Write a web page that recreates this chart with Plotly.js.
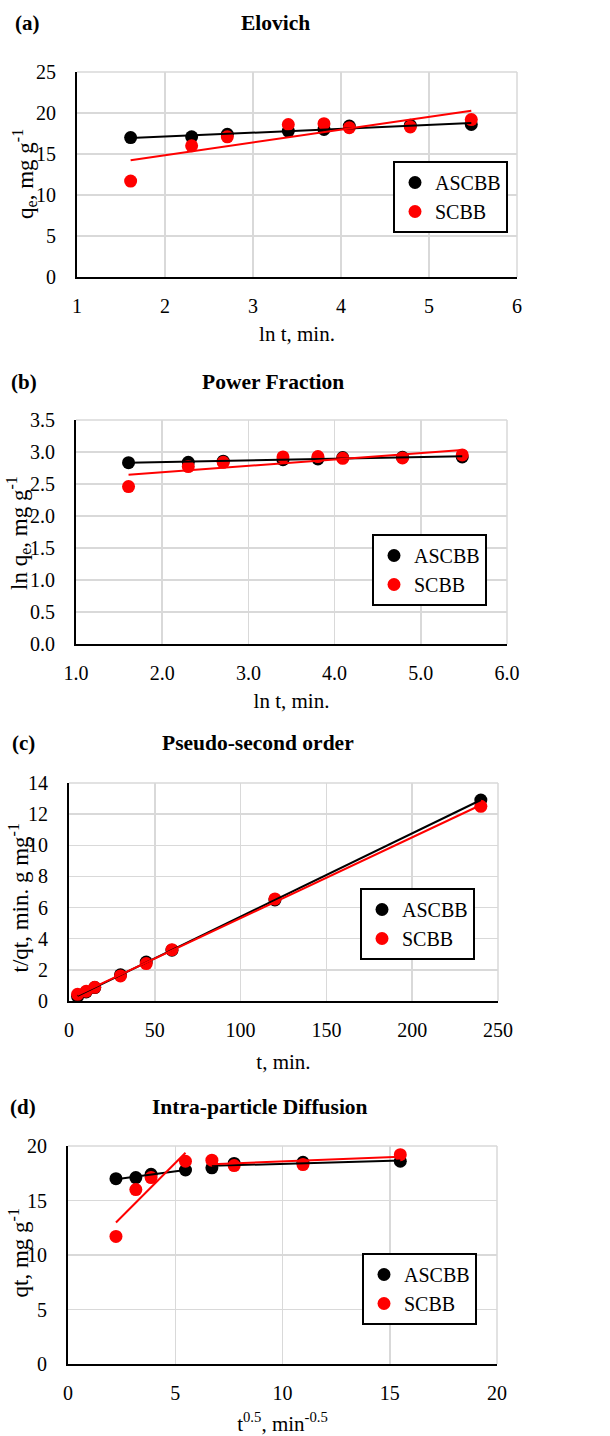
<!DOCTYPE html>
<html><head><meta charset="utf-8">
<script src="https://cdn.plot.ly/plotly-3.0.1.min.js"></script>
<style>html,body{margin:0;padding:0;background:#fff}</style>
</head><body><div id="chart" style="width:610px;height:1436px"></div>
<script>
// ---- data ----
const timeMin = [5, 10, 15, 30, 45, 60, 120, 240];
const qtASCBB = [17.0, 17.1, 17.4, 17.8, 18.0, 18.4, 18.5, 18.6];
const qtSCBB  = [11.7, 16.0, 17.1, 18.6, 18.7, 18.2, 18.3, 19.2];
const seriesNames = ['ASCBB', 'SCBB'];
const seriesColors = ['#000000', '#ff0000'];
const panelLabels = ['(a)', '(b)', '(c)', '(d)'];
const panelTitles = ['Elovich', 'Power Fraction', 'Pseudo-second order', 'Intra-particle Diffusion'];
const xTitles = ['ln t, min.', 'ln t, min.', 't, min.', 't<sup>0.5</sup>, min<sup>-0.5</sup>'];
const yTitles = ['q<sub>e</sub>, mg g<sup>-1</sup>', 'ln q<sub>e</sub>, mg g<sup>-1</sup>', 't/qt, min. g mg<sup>-1</sup>', 'qt, mg g<sup>-1</sup>'];
const ipdSegments = [[0, 3], [4, 7]];   // intra-particle diffusion: fitted stages (point indices)

// ---- derived panel data ----
const lnT = timeMin.map(Math.log);
const sqrtT = timeMin.map(Math.sqrt);
const qSeries = [qtASCBB, qtSCBB];
const panels = [
  {x: lnT,   ys: qSeries, segs: [[0, 7]]},
  {x: lnT,   ys: qSeries.map(q => q.map(Math.log)), segs: [[0, 7]]},
  {x: timeMin, ys: qSeries.map(q => q.map((v, i) => timeMin[i] / v)), segs: [[0, 7]]},
  {x: sqrtT, ys: qSeries, segs: ipdSegments}
];

function fitLine(xs, ys) {
  const n = xs.length;
  const mx = xs.reduce((a, b) => a + b, 0) / n, my = ys.reduce((a, b) => a + b, 0) / n;
  let sxy = 0, sxx = 0;
  for (let i = 0; i < n; i++) { sxy += (xs[i] - mx) * (ys[i] - my); sxx += (xs[i] - mx) ** 2; }
  const m = sxy / sxx, b = my - m * mx;
  const x0 = Math.min(...xs), x1 = Math.max(...xs);
  return {x: [x0, x1], y: [m * x0 + b, m * x1 + b]};
}

// ---- layout geometry (pixels) ----
const W = 610, H = 1436;
const boxes = [ // left, right, top, bottom of plot area
  [77, 517, 72, 277],
  [76, 507, 420, 644],
  [69, 498, 783, 1001],
  [68, 497, 1146, 1364]
];
const ranges = [
  {x: [1, 6], xd: 1, xf: 'd', y: [0, 25], yd: 5, yf: 'd'},
  {x: [1, 6], xd: 1, xf: '.1f', y: [0, 3.5], yd: 0.5, yf: '.1f'},
  {x: [0, 250], xd: 50, xf: 'd', y: [0, 14], yd: 2, yf: 'd'},
  {x: [0, 20], xd: 5, xf: 'd', y: [0, 20], yd: 5, yf: 'd'}
];
const titleY = [23, 382, 743, 1107];
const titleX = [275, 273, 258, 260];
const labelX = [13, 9, 10, 8];
const legendPos = [[508, 197], [487, 570], [475, 924], [477, 1289]];
const yTitlePos = [[25, 174], [19, 533], [18.5, 898], [18.5, 1253]];
const xStandoff = [10, 10, 14, 14];

const FONT = 'Liberation Serif, Times New Roman, serif';
const traces = [];
const layout = {
  width: W, height: H, margin: {l: 0, r: 0, t: 0, b: 0},
  paper_bgcolor: '#fff', plot_bgcolor: '#fff',
  font: {family: FONT, color: '#000', size: 20},
  annotations: [], shapes: [], showlegend: true
};

panels.forEach((p, k) => {
  const sfx = k === 0 ? '' : String(k + 1);
  const xa = 'x' + sfx, ya = 'y' + sfx;
  const leg = 'legend' + sfx;
  p.ys.forEach((ys, s) => {
    traces.push({x: p.x, y: ys, xaxis: xa, yaxis: ya, type: 'scatter', mode: 'markers',
      name: seriesNames[s], legend: leg, showlegend: true,
      marker: {color: seriesColors[s], size: 13}, hoverinfo: 'x+y'});
  });
  p.ys.forEach((ys, s) => {
    p.segs.forEach(([a, b]) => {
      const f = fitLine(p.x.slice(a, b + 1), ys.slice(a, b + 1));
      traces.push({x: f.x, y: f.y, xaxis: xa, yaxis: ya, type: 'scatter', mode: 'lines',
        showlegend: false, legend: leg, line: {color: seriesColors[s], width: 2}, hoverinfo: 'skip'});
    });
  });
  const [l, r, t, b] = boxes[k];
  const rg = ranges[k];
  const common = {showgrid: true, gridcolor: '#d9d9d9', gridwidth: 1.5, showline: true,
    linecolor: '#000', linewidth: 2, zeroline: false, ticks: '', automargin: false,
    tickfont: {size: 20, color: '#000', family: FONT}, fixedrange: true, layer: 'above traces'};
  layout['xaxis' + sfx] = Object.assign({}, common, {
    domain: [l / W, r / W], range: rg.x, dtick: rg.xd, tick0: rg.x[0], tickformat: rg.xf,
    anchor: ya, ticklabelstandoff: 10,
    title: {text: xTitles[k], font: {size: 21, family: FONT}, standoff: xStandoff[k]}
  });
  layout['yaxis' + sfx] = Object.assign({}, common, {
    domain: [1 - b / H, 1 - t / H], range: rg.y, dtick: rg.yd, tick0: rg.y[0], tickformat: rg.yf,
    anchor: xa, ticklabelstandoff: 15
  });
  // y-axis title placed as rotated text beside the tick labels
  layout.annotations.push({text: yTitles[k], xref: 'paper', yref: 'paper', textangle: -90,
    x: yTitlePos[k][0] / W, y: 1 - yTitlePos[k][1] / H, xanchor: 'center', yanchor: 'middle',
    showarrow: false, font: {size: 23, family: FONT, color: '#000'}});
  // gridlines on the far (top/right) edges of each plot area
  layout.shapes.push({type: 'line', xref: xa + ' domain', yref: ya + ' domain', x0: 1, x1: 1, y0: 0, y1: 1,
    line: {color: '#d9d9d9', width: 1.5}, layer: 'below'});
  layout.shapes.push({type: 'line', xref: xa + ' domain', yref: ya + ' domain', x0: 0, x1: 1, y0: 1, y1: 1,
    line: {color: '#d9d9d9', width: 1.5}, layer: 'below'});
  layout[leg] = {
    x: legendPos[k][0] / W, y: 1 - legendPos[k][1] / H, xanchor: 'right', yanchor: 'middle',
    xref: 'paper', yref: 'paper', bgcolor: '#fff', bordercolor: '#000', borderwidth: 2,
    font: {size: 20, family: FONT, color: '#000'}, itemwidth: 30, tracegroupgap: 0
  };
  layout.annotations.push({text: '<b>' + panelLabels[k] + '</b>', xref: 'paper', yref: 'paper',
    x: labelX[k] / W, y: 1 - titleY[k] / H, xanchor: 'left', yanchor: 'middle', showarrow: false,
    font: {size: 21, family: FONT, color: '#000'}});
  layout.annotations.push({text: '<b>' + panelTitles[k] + '</b>', xref: 'paper', yref: 'paper',
    x: titleX[k] / W, y: 1 - titleY[k] / H, xanchor: 'center', yanchor: 'middle', showarrow: false,
    font: {size: 21.5, family: FONT, color: '#000'}});
});

Plotly.newPlot('chart', traces, layout, {staticPlot: true, displayModeBar: false});
</script></body></html>
